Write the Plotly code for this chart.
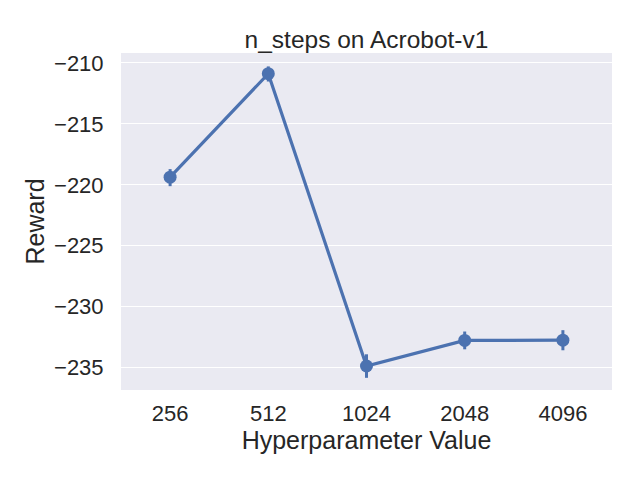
import plotly.graph_objects as go

categories = ["256", "512", "1024", "2048", "4096"]
reward_mean = [-219.37, -210.88, -234.87, -232.77, -232.75]
ci_low = [-220.11, -211.52, -235.84, -233.50, -233.58]
ci_high = [-218.71, -210.28, -233.91, -232.04, -231.93]

blue = "#4C72B0"
font_family = "Liberation Sans, Arial, sans-serif"
text_color = "#262626"

err_plus = [h - m for h, m in zip(ci_high, reward_mean)]
err_minus = [m - l for m, l in zip(reward_mean, ci_low)]

# the page body has an 8px margin, so the figure is offset by 8px
fig = go.Figure()
fig.add_trace(go.Scatter(
    x=categories, y=reward_mean,
    mode="lines+markers",
    line=dict(color=blue, width=3.2),
    marker=dict(color=blue, size=13),
    error_y=dict(type="data", symmetric=False, array=err_plus, arrayminus=err_minus,
                 color=blue, thickness=3, width=0),
    showlegend=False,
))

fig.update_layout(
    width=640, height=480,
    margin=dict(l=113, r=36, t=45, b=98, autoexpand=False),
    paper_bgcolor="white",
    plot_bgcolor="#EAEAF2",
    font=dict(family=font_family, color=text_color, size=22),
    title=dict(text="n_steps on Acrobot-v1", x=(113 + 604) / 2 / 640, xanchor="center",
               y=1 - 31 / 480, yanchor="middle", yref="container",
               font=dict(size=24.5, color=text_color)),
)
fig.update_xaxes(
    type="category", range=[-0.5, 4.5], automargin=False,
    showgrid=False, zeroline=False, showline=False,
    ticks="outside", ticklen=4, tickcolor="rgba(0,0,0,0)",
    tickfont=dict(size=22),
    title=dict(text="Hyperparameter Value", font=dict(size=25), standoff=2),
)
fig.update_yaxes(
    range=[-236.84, -209.18], automargin=False,
    tickvals=[-235, -230, -225, -220, -215, -210],
    ticktext=["\u2212235", "\u2212230", "\u2212225", "\u2212220", "\u2212215", "\u2212210"],
    showgrid=True, gridcolor="white", gridwidth=1.2, zeroline=False, showline=False,
    ticks="outside", ticklen=12, tickcolor="rgba(0,0,0,0)",
    tickfont=dict(size=22),
    title=dict(text="Reward", font=dict(size=25), standoff=2),
)

fig.write_html("out.html")
